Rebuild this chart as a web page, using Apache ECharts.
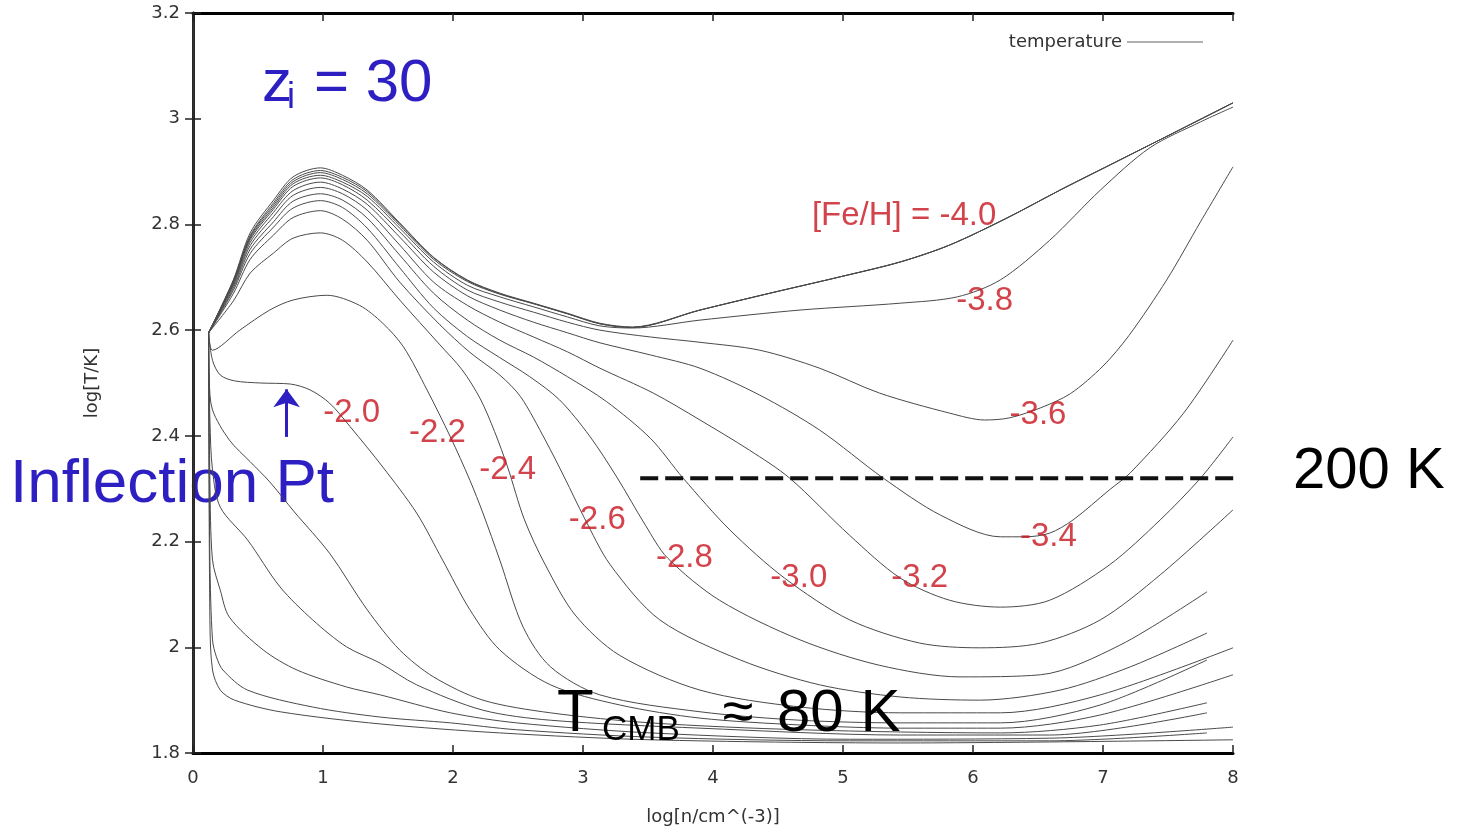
<!DOCTYPE html>
<html>
<head>
<meta charset="utf-8">
<title>log T vs log n</title>
<script src="https://cdn.jsdelivr.net/npm/echarts@6/dist/echarts.min.js"></script>
<style>
  html, body { margin: 0; padding: 0; background: #fff; }
  #chart { width: 1470px; height: 832px; }
</style>
</head>
<body>
<div id="chart"></div>
<script>
// x = log[n/cm^-3], y = log[T/K]
var xTicks = [0, 8, 1];
var yTicks = [1.8, 3.2, 0.2];

var bundleTail = [[3.90,2.638],[4.44,2.670],[4.98,2.701],[5.44,2.729],[5.82,2.761],[6.26,2.812],[6.67,2.865],[7.13,2.922],[7.59,2.979],[8.00,3.030]];

var bundleA = [[0.12,2.595],[0.31,2.695],[0.44,2.784],[0.62,2.846],[0.77,2.890],[0.98,2.907],[1.15,2.893],[1.34,2.865],[1.59,2.803],[1.85,2.738],[2.11,2.695],[2.36,2.670],[2.62,2.651],[2.88,2.632],[3.13,2.613],[3.38,2.606]].concat(bundleTail);
var bundleB = [[0.12,2.595],[0.31,2.693],[0.44,2.779],[0.62,2.841],[0.77,2.885],[0.98,2.902],[1.15,2.889],[1.34,2.862],[1.59,2.801],[1.85,2.737],[2.11,2.694],[2.36,2.669],[2.62,2.650],[2.88,2.631],[3.13,2.612],[3.38,2.605]].concat(bundleTail);
var feh40 = [[0.12,2.595],[0.31,2.692],[0.44,2.777],[0.62,2.837],[0.77,2.881],[0.98,2.898],[1.15,2.885],[1.34,2.858],[1.59,2.798],[1.85,2.734],[2.11,2.692],[2.36,2.668],[2.62,2.650],[2.88,2.631],[3.13,2.612],[3.38,2.605]].concat(bundleTail);
var feh38 = [[0.12,2.595],[0.31,2.690],[0.44,2.774],[0.62,2.833],[0.77,2.877],[0.98,2.893],[1.15,2.880],[1.34,2.853],[1.59,2.793],[1.85,2.729],[2.11,2.685],[2.36,2.663],[2.62,2.644],[2.88,2.625],[3.13,2.608],[3.38,2.604],[3.90,2.619],[4.67,2.638],[5.44,2.651],[5.88,2.663],[6.21,2.695],[6.59,2.770],[6.98,2.865],[7.36,2.945],[7.75,2.994],[8.00,3.022]];
var feh36 = [[0.12,2.595],[0.31,2.689],[0.44,2.771],[0.62,2.829],[0.77,2.872],[0.98,2.888],[1.15,2.875],[1.34,2.846],[1.59,2.786],[1.85,2.721],[2.11,2.676],[2.36,2.653],[2.62,2.634],[2.88,2.615],[3.13,2.600],[3.52,2.587],[3.90,2.577],[4.36,2.562],[4.82,2.528],[5.28,2.481],[5.82,2.443],[6.09,2.430],[6.28,2.434],[6.52,2.453],[6.75,2.480],[7.00,2.532],[7.20,2.590],[7.49,2.695],[7.75,2.805],[8.00,2.909]];
var feh34 = [[0.12,2.595],[0.31,2.686],[0.44,2.766],[0.62,2.823],[0.77,2.864],[0.98,2.880],[1.15,2.867],[1.34,2.838],[1.59,2.776],[1.85,2.710],[2.11,2.665],[2.36,2.638],[2.62,2.615],[2.88,2.595],[3.13,2.576],[3.52,2.553],[3.90,2.528],[4.36,2.477],[4.82,2.411],[5.31,2.320],[5.75,2.250],[6.21,2.209],[6.40,2.209],[6.59,2.216],[6.77,2.241],[7.05,2.298],[7.21,2.330],[7.62,2.443],[8.00,2.581]];
var feh32 = [[0.12,2.595],[0.31,2.683],[0.44,2.760],[0.62,2.815],[0.77,2.855],[0.98,2.870],[1.15,2.858],[1.34,2.827],[1.59,2.761],[1.85,2.691],[2.11,2.647],[2.36,2.615],[2.62,2.587],[2.88,2.559],[3.13,2.528],[3.54,2.481],[3.90,2.430],[4.28,2.373],[4.59,2.320],[5.05,2.212],[5.44,2.131],[5.82,2.089],[6.21,2.076],[6.59,2.089],[7.05,2.156],[7.44,2.241],[7.75,2.320],[8.00,2.398]];
var feh30 = [[0.12,2.595],[0.31,2.679],[0.44,2.753],[0.62,2.805],[0.77,2.844],[0.98,2.858],[1.15,2.846],[1.34,2.812],[1.59,2.742],[1.85,2.670],[2.11,2.619],[2.36,2.581],[2.62,2.549],[2.88,2.512],[3.18,2.465],[3.52,2.395],[3.77,2.320],[4.13,2.222],[4.55,2.131],[5.05,2.052],[5.59,2.008],[6.05,1.999],[6.52,2.008],[6.98,2.052],[7.44,2.137],[8.00,2.260]];
var feh28 = [[0.12,2.595],[0.31,2.675],[0.44,2.745],[0.62,2.795],[0.77,2.831],[0.98,2.845],[1.15,2.832],[1.34,2.793],[1.59,2.718],[1.85,2.642],[2.11,2.588],[2.36,2.548],[2.59,2.512],[2.82,2.468],[3.05,2.400],[3.26,2.322],[3.48,2.231],[3.65,2.169],[4.05,2.089],[4.67,2.014],[5.28,1.966],[5.90,1.944],[6.52,1.948],[7.13,2.004],[7.80,2.105]];
var feh26 = [[0.12,2.595],[0.31,2.669],[0.44,2.734],[0.62,2.780],[0.77,2.813],[0.98,2.826],[1.15,2.810],[1.34,2.770],[1.59,2.691],[1.90,2.610],[2.13,2.558],[2.36,2.515],[2.52,2.474],[2.71,2.392],[2.86,2.320],[3.01,2.245],[3.21,2.156],[3.59,2.052],[4.21,1.976],[4.82,1.929],[5.44,1.906],[6.05,1.900],[6.67,1.919],[7.21,1.963],[7.80,2.027]];
var feh24 = [[0.12,2.595],[0.31,2.655],[0.44,2.708],[0.62,2.746],[0.77,2.774],[0.98,2.784],[1.15,2.770],[1.34,2.729],[1.59,2.657],[1.90,2.572],[2.07,2.525],[2.21,2.470],[2.32,2.408],[2.42,2.341],[2.55,2.241],[2.71,2.156],[2.94,2.061],[3.28,1.985],[3.90,1.919],[4.67,1.887],[5.44,1.876],[6.21,1.876],[6.98,1.910],[8.00,1.999]];
var feh22 = [[0.12,2.595],[0.15,2.562],[0.36,2.600],[0.59,2.638],[0.77,2.657],[1.03,2.666],[1.28,2.647],[1.46,2.613],[1.62,2.568],[1.80,2.487],[1.98,2.398],[2.13,2.316],[2.23,2.254],[2.36,2.165],[2.54,2.038],[2.75,1.963],[3.13,1.910],[3.90,1.878],[4.67,1.862],[5.44,1.857],[6.21,1.857],[6.98,1.891],[7.80,1.976]];
var feh20 = [[0.12,2.595],[0.15,2.543],[0.21,2.515],[0.32,2.504],[0.52,2.500],[0.75,2.498],[0.90,2.487],[1.05,2.462],[1.21,2.417],[1.46,2.341],[1.72,2.254],[1.92,2.165],[2.13,2.071],[2.36,1.995],[2.75,1.929],[3.28,1.891],[3.90,1.866],[4.67,1.853],[5.44,1.847],[6.21,1.847],[6.98,1.872],[8.00,1.948]];
var feh18 = [[0.12,2.595],[0.125,2.506],[0.15,2.449],[0.28,2.392],[0.44,2.351],[0.59,2.313],[0.78,2.256],[1.05,2.178],[1.34,2.071],[1.59,1.995],[1.85,1.944],[2.23,1.900],[2.75,1.876],[3.52,1.857],[4.67,1.844],[6.21,1.838],[6.98,1.853],[7.80,1.895]];
var feh16 = [[0.12,2.595],[0.13,2.430],[0.15,2.335],[0.21,2.265],[0.42,2.203],[0.67,2.114],[0.92,2.052],[1.18,2.001],[1.44,1.970],[1.72,1.929],[2.23,1.881],[2.75,1.862],[3.90,1.847],[5.44,1.834],[6.59,1.834],[7.80,1.876]];
var feh14 = [[0.12,2.595],[0.13,2.316],[0.15,2.165],[0.21,2.108],[0.28,2.057],[0.54,1.995],[0.80,1.957],[1.18,1.925],[1.44,1.910],[1.98,1.876],[2.49,1.857],[3.52,1.838],[5.05,1.826],[6.59,1.828],[8.00,1.849]];
var feh12 = [[0.12,2.595],[0.13,2.165],[0.15,2.014],[0.18,1.982],[0.23,1.957],[0.42,1.919],[0.92,1.887],[1.44,1.868],[1.98,1.857],[2.49,1.844],[3.52,1.830],[5.05,1.823],[6.59,1.823],[7.80,1.838]];
var feh10 = [[0.12,2.595],[0.13,2.052],[0.15,1.957],[0.21,1.919],[0.32,1.900],[0.67,1.878],[1.44,1.855],[2.36,1.838],[3.52,1.825],[5.44,1.819],[8.00,1.825]];

// [Fe/H] labels: text, x, y
var fehLabels = [
  ['[Fe/H] = -4.0', 5.47, 2.816],
  ['-3.8', 6.09, 2.655],
  ['-3.6', 6.50, 2.439],
  ['-3.4', 6.58, 2.209],
  ['-3.2', 5.59, 2.131],
  ['-3.0', 4.66, 2.131],
  ['-2.8', 3.78, 2.169],
  ['-2.6', 3.11, 2.241],
  ['-2.4', 2.42, 2.335],
  ['-2.2', 1.88, 2.405],
  ['-2.0', 1.22, 2.443]
];

var line200K = [[3.44, 2.32], [8.30, 2.32]];
var arrowPts = [[0.72, 2.398], [0.72, 2.488]];

var blue = '#2d1fc2';
var red = '#c8141e';

var curves = [bundleA, bundleB, feh40, feh38, feh36, feh34, feh32, feh30, feh28, feh26, feh24, feh22, feh20, feh18, feh16, feh14, feh12, feh10];

var series = curves.map(function (c) {
  return {
    name: 'temperature',
    type: 'line',
    data: c,
    showSymbol: false,
    smooth: 0.3,
    silent: true,
    lineStyle: { color: '#4a4a4a', width: 1 },
    itemStyle: { color: '#b0b0b0' }
  };
});

series.push({
  name: '200K',
  type: 'line',
  data: line200K,
  clip: false,
  showSymbol: false,
  silent: true,
  z: 4,
  lineStyle: { color: '#111', width: 4, type: [18, 7] },
  markLine: {
    silent: true,
    symbol: ['none', 'arrow'],
    symbolSize: [20, 18],
    label: { show: false },
    lineStyle: { color: blue, width: 3, type: 'solid' },
    data: [[{ coord: arrowPts[0] }, { coord: arrowPts[1] }]]
  }
});

series.push({
  name: 'labels',
  type: 'scatter',
  symbolSize: 1,
  silent: true,
  z: 5,
  itemStyle: { color: 'rgba(0,0,0,0)' },
  data: fehLabels.map(function (l) { return { name: l[0], value: [l[1], l[2]] }; }),
  label: {
    show: true,
    position: 'inside',
    formatter: '{b}',
    color: red,
    fontSize: 33,
    fontFamily: 'Liberation Sans'
  }
});

var tickFont = { color: '#333', fontSize: 18, fontFamily: 'DejaVu Sans' };

var option = {
  animation: false,
  backgroundColor: '#fff',
  grid: { left: 193, right: 237, top: 13, bottom: 79, containLabel: false, outerBoundsMode: 'none' },
  legend: {
    data: ['temperature'],
    right: 262,
    top: 28,
    icon: 'rect',
    itemWidth: 76,
    itemHeight: 2,
    align: 'right',
    itemStyle: { color: '#b0b0b0' },
    textStyle: { color: '#333', fontSize: 18, fontFamily: 'DejaVu Sans' }
  },
  xAxis: [{
    type: 'value',
    min: xTicks[0], max: xTicks[1], interval: xTicks[2],
    name: 'log[n/cm^(-3)]',
    nameLocation: 'middle',
    nameGap: 55,
    nameTextStyle: tickFont,
    axisLine: { show: true, lineStyle: { color: '#000', width: 3 } },
    axisTick: { show: true, inside: true, length: 8, lineStyle: { color: '#222', width: 1.5 } },
    axisLabel: Object.assign({ margin: 16 }, tickFont),
    splitLine: { show: false }
  }, {
    type: 'value',
    position: 'top',
    min: xTicks[0], max: xTicks[1], interval: xTicks[2],
    axisLine: { show: true, lineStyle: { color: '#000', width: 3 } },
    axisTick: { show: true, inside: true, length: 8, lineStyle: { color: '#222', width: 1.5 } },
    axisLabel: { show: false },
    splitLine: { show: false }
  }],
  yAxis: [{
    type: 'value',
    min: yTicks[0], max: yTicks[1], interval: yTicks[2],
    name: 'log[T/K]',
    nameLocation: 'middle',
    nameGap: 92,
    nameTextStyle: tickFont,
    axisLine: { show: true, lineStyle: { color: '#000', width: 3 } },
    axisTick: { show: true, inside: true, length: 8, lineStyle: { color: '#222', width: 1.5 } },
    axisLabel: Object.assign({ margin: 13 }, tickFont),
    splitLine: { show: false }
  }, {
    type: 'value',
    position: 'right',
    min: yTicks[0], max: yTicks[1], interval: yTicks[2],
    axisLine: { show: true, lineStyle: { color: '#333', width: 2.5 } },
    axisTick: { show: true, inside: true, length: 8, lineStyle: { color: '#222', width: 1.5 } },
    axisLabel: { show: false },
    splitLine: { show: false }
  }],
  graphic: [
    { type: 'text', x: 262, y: 84, style: { text: 'z', fontSize: 60, fontFamily: 'Liberation Sans', fill: blue, verticalAlign: 'middle' } },
    { type: 'text', x: 287, y: 98, style: { text: 'i', fontSize: 36, fontFamily: 'Liberation Sans', fill: blue, verticalAlign: 'middle' } },
    { type: 'text', x: 314, y: 84, style: { text: '= 30', fontSize: 60, fontFamily: 'Liberation Sans', fill: blue, verticalAlign: 'middle' } },
    { type: 'text', x: 10, y: 485, style: { text: 'Inflection Pt', fontSize: 62, fontFamily: 'Liberation Sans', fill: blue, verticalAlign: 'middle' } },
    { type: 'text', x: 1293, y: 472, style: { text: '200 K', fontSize: 58, fontFamily: 'Liberation Sans', fill: '#000', verticalAlign: 'middle' } },
    { type: 'text', x: 557, y: 714, z: 10, style: { text: 'T', fontSize: 60, fontFamily: 'Liberation Sans', fill: '#000', verticalAlign: 'middle' } },
    { type: 'text', x: 602, y: 730, z: 10, style: { text: 'CMB', fontSize: 35, fontFamily: 'Liberation Sans', fill: '#000', verticalAlign: 'middle' } },
    { type: 'text', x: 738, y: 715, z: 10, style: { text: '\u2248', fontSize: 56, fontFamily: 'Liberation Sans', fill: '#000', align: 'center', verticalAlign: 'middle' } },
    { type: 'text', x: 777, y: 714, z: 10, style: { text: '80 K', fontSize: 60, fontFamily: 'Liberation Sans', fill: '#000', verticalAlign: 'middle' } }
  ],
  series: series
};

var chart = echarts.init(document.getElementById('chart'));
chart.setOption(option);
</script>
</body>
</html>
